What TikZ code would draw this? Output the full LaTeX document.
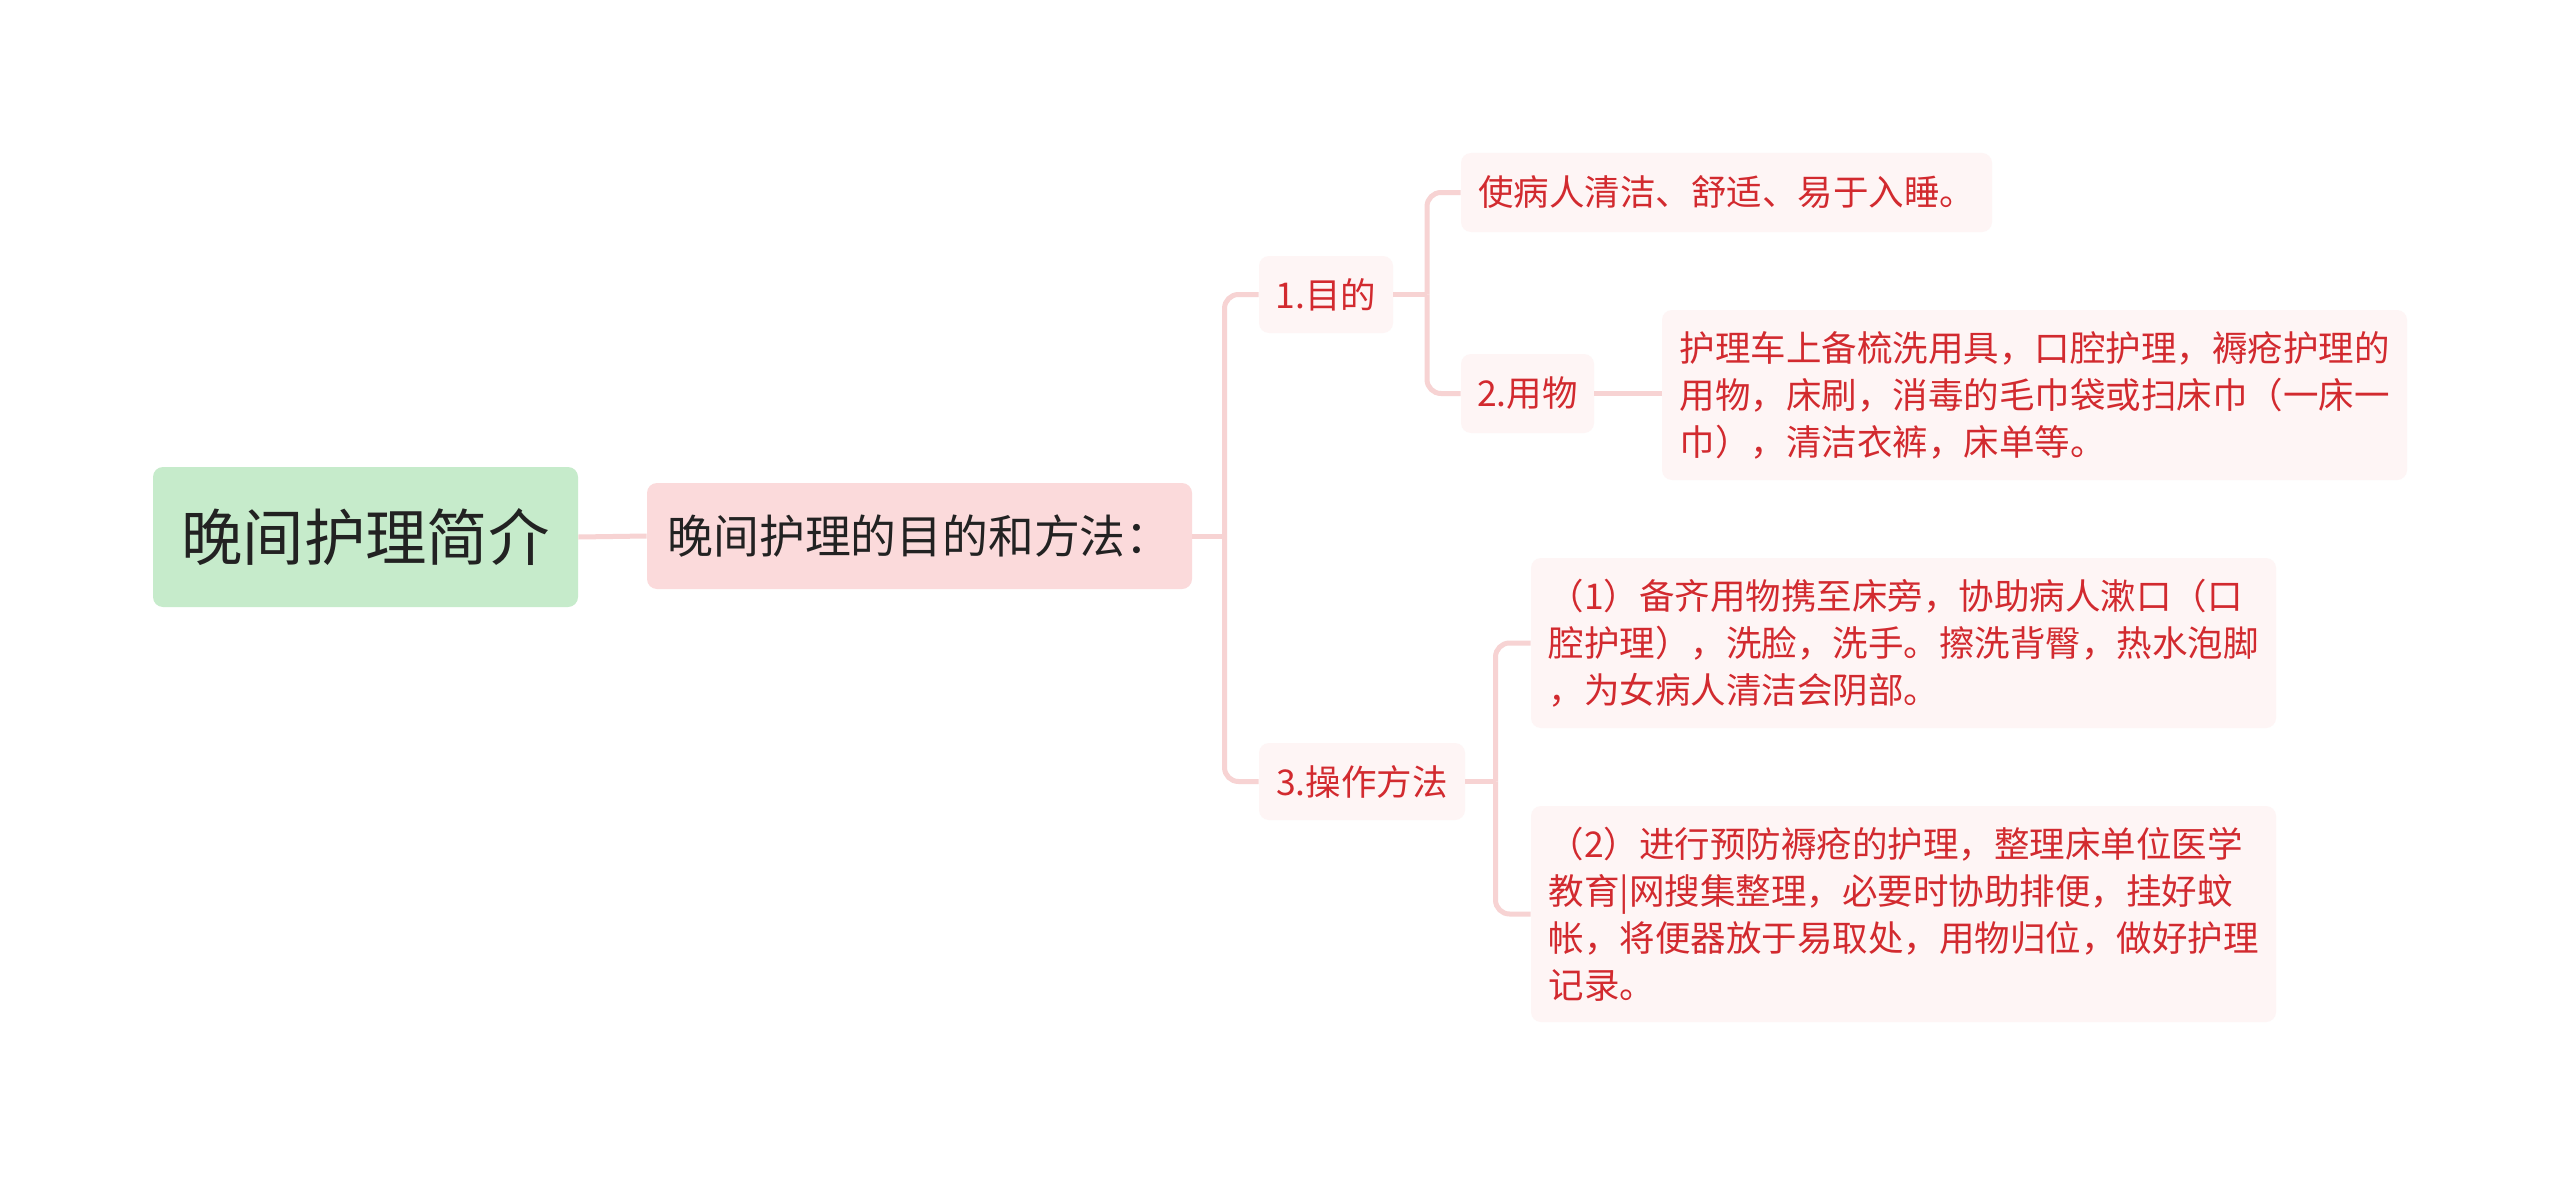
\documentclass[tikz,border=0pt]{standalone}
\usepackage{fontspec}
\setmainfont{Noto Sans CJK SC}
\usetikzlibrary{calc}
\definecolor{rootfill}{HTML}{C6EBCB}
\definecolor{midfill}{HTML}{FBDADB}
\definecolor{leaffill}{HTML}{FEF5F5}
\definecolor{leaftext}{HTML}{D22A2F}
\definecolor{linec}{HTML}{F7D3D3}
\definecolor{darktext}{HTML}{222222}
\begin{document}
\begin{tikzpicture}[x=0.5pt,y=-0.5pt,
  box/.style={rounded corners=5pt, inner sep=0pt, align=left},
  rootbox/.style={box, fill=rootfill, text=darktext, font=\fontsize{30.7}{36}\selectfont},
  midbox/.style={box, fill=midfill, text=darktext, font=\fontsize{22.9}{27}\selectfont},
  leafbox/.style={box, fill=leaffill, text=leaftext, font=\fontsize{17.75}{23.5}\selectfont},
  conn/.style={draw=linec, line width=2.5pt},
  elbow/.style={conn, rounded corners=7pt},
]
\fill[white] (0,0) rectangle (2560,1177);
\useasboundingbox (0,0) rectangle (2560,1177);

\coordinate (t0) at (1224.5,536);
\coordinate (t1) at (1427,294.5);
\coordinate (t3) at (1495.5,781.5);

\node[rootbox, minimum width=212.5pt, minimum height=70pt] (root) at (365.5,537) {晚间护理简介};
\node[midbox, minimum width=272.5pt, minimum height=53pt] (mid) at (919.5,536) {晚间护理的目的和方法：};

\node[leafbox, minimum width=67pt, minimum height=38.5pt] (a) at (1326,294.5) {1.目的};
\node[leafbox, minimum width=265.5pt, minimum height=39.5pt] (a1) at (1726.5,192.5) {使病人清洁、舒适、易于入睡。};
\node[leafbox, minimum width=66.5pt, minimum height=39.5pt] (b) at (1527.5,393.5) {2.用物};
\node[leafbox, minimum width=372.5pt, minimum height=85pt] (b1) at (2034.5,395) {护理车上备梳洗用具，口腔护理，褥疮护理的\\用物，床刷，消毒的毛巾袋或扫床巾（一床一\\巾），清洁衣裤，床单等。};
\node[leafbox, minimum width=103pt, minimum height=38.5pt] (c) at (1362,781.5) {3.操作方法};
\node[leafbox, minimum width=372.5pt, minimum height=85pt] (c1) at (1903.5,643) {（1）备齐用物携至床旁，协助病人漱口（口\\腔护理），洗脸，洗手。擦洗背臀，热水泡脚\\，为女病人清洁会阴部。};
\node[leafbox, minimum width=372.5pt, minimum height=108pt] (c2) at (1903.5,914) {（2）进行预防褥疮的护理，整理床单位医学\\教育|网搜集整理，必要时协助排便，挂好蚊\\帐，将便器放于易取处，用物归位，做好护理\\记录。};

\draw[conn] (root.east) -- (mid.west);
\draw[conn] (mid.east) -- (t0);
\draw[elbow] (a.west) -| (t0);
\draw[elbow] (c.west) -| (t0);
\draw[conn] (a.east) -- (t1);
\draw[elbow] (a1.west) -| (t1);
\draw[elbow] (b.west) -| (t1);
\draw[conn] (b.east) -- (b1.west |- b.east);
\draw[conn] (c.east) -- (t3);
\draw[elbow] (c1.west) -| (t3);
\draw[elbow] (c2.west) -| (t3);
\end{tikzpicture}
\end{document}
